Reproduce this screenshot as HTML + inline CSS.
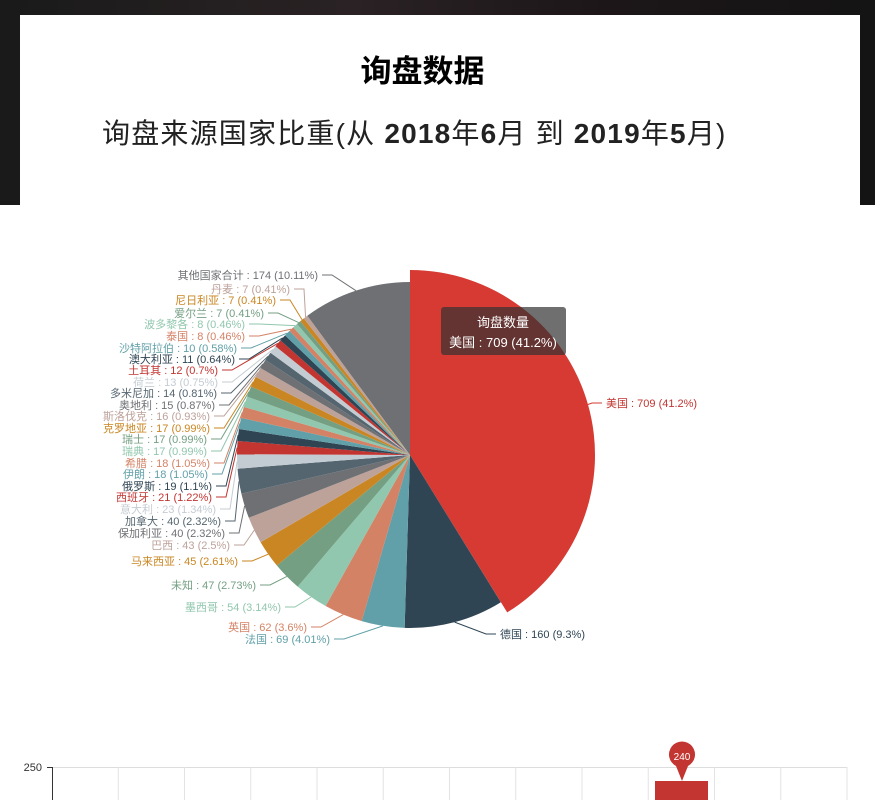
<!DOCTYPE html>
<html><head><meta charset="utf-8">
<style>
html,body{margin:0;padding:0;width:875px;height:800px;overflow:hidden;background:#fff;font-family:"Liberation Sans","Noto Sans CJK SC",sans-serif;}
#bg{position:absolute;left:0;top:0;width:875px;height:205px;background:linear-gradient(90deg,#1a1a1a,#2a2224 40%,#1c1618 70%,#141414);}
#card{position:absolute;left:20px;top:15px;width:840px;height:190px;background:#fff;}
#t1{position:absolute;left:0;width:845px;top:46px;text-align:center;font-size:31px;font-weight:bold;color:#000;}
#t2{position:absolute;left:102px;top:112px;font-size:28px;letter-spacing:1.2px;color:#222;white-space:nowrap;}
#t2 b{font-weight:bold;}
svg{position:absolute;left:0;top:0;}
</style></head><body>
<div id="bg"></div>
<div id="card"></div>
<div id="t1">询盘数据</div>
<div id="t2">询盘来源国家比重(从 <b>2018</b>年<b>6</b>月 到 <b>2019</b>年<b>5</b>月)</div>
<svg id="s" width="875" height="800" font-family="Liberation Sans, Noto Sans CJK SC, sans-serif" font-size="11">
<g id="slices"></g><g id="lines"></g>
<g id="labels" text-anchor="end">
<text x="318" y="279" fill="#6e7074">其他国家合计 : 174 (10.11%)</text>
<text x="290" y="293" fill="#bda29a">丹麦 : 7 (0.41%)</text>
<text x="276" y="304" fill="#ca8622">尼日利亚 : 7 (0.41%)</text>
<text x="264" y="317" fill="#749f83">爱尔兰 : 7 (0.41%)</text>
<text x="245" y="328" fill="#91c7ae">波多黎各 : 8 (0.46%)</text>
<text x="245" y="340" fill="#d48265">泰国 : 8 (0.46%)</text>
<text x="237" y="352" fill="#61a0a8">沙特阿拉伯 : 10 (0.58%)</text>
<text x="235" y="363" fill="#2f4554">澳大利亚 : 11 (0.64%)</text>
<text x="218" y="374" fill="#c23531">土耳其 : 12 (0.7%)</text>
<text x="218" y="386" fill="#c4ccd3">荷兰 : 13 (0.75%)</text>
<text x="217" y="397" fill="#546570">多米尼加 : 14 (0.81%)</text>
<text x="215" y="409" fill="#6e7074">奥地利 : 15 (0.87%)</text>
<text x="210" y="420" fill="#bda29a">斯洛伐克 : 16 (0.93%)</text>
<text x="210" y="432" fill="#ca8622">克罗地亚 : 17 (0.99%)</text>
<text x="207" y="443" fill="#749f83">瑞士 : 17 (0.99%)</text>
<text x="207" y="455" fill="#91c7ae">瑞典 : 17 (0.99%)</text>
<text x="210" y="467" fill="#d48265">希腊 : 18 (1.05%)</text>
<text x="208" y="478" fill="#61a0a8">伊朗 : 18 (1.05%)</text>
<text x="212" y="490" fill="#2f4554">俄罗斯 : 19 (1.1%)</text>
<text x="212" y="501" fill="#c23531">西班牙 : 21 (1.22%)</text>
<text x="216" y="513" fill="#c4ccd3">意大利 : 23 (1.34%)</text>
<text x="221" y="525" fill="#546570">加拿大 : 40 (2.32%)</text>
<text x="225" y="537" fill="#6e7074">保加利亚 : 40 (2.32%)</text>
<text x="230" y="549" fill="#bda29a">巴西 : 43 (2.5%)</text>
<text x="238" y="565" fill="#ca8622">马来西亚 : 45 (2.61%)</text>
<text x="256" y="589" fill="#749f83">未知 : 47 (2.73%)</text>
<text x="281" y="611" fill="#91c7ae">墨西哥 : 54 (3.14%)</text>
<text x="307" y="631" fill="#d48265">英国 : 62 (3.6%)</text>
<text x="330" y="643" fill="#61a0a8">法国 : 69 (4.01%)</text>
<text x="500" y="638" text-anchor="start" fill="#2f4554">德国 : 160 (9.3%)</text>
<text x="606" y="407" text-anchor="start" fill="#c23531">美国 : 709 (41.2%)</text>
</g>
<rect x="441" y="307" width="125" height="48" rx="3" fill="rgba(50,50,50,0.7)"/>
<text x="503" y="327" text-anchor="middle" fill="#fff" font-size="13">询盘数量</text>
<text x="503" y="347" text-anchor="middle" fill="#fff" font-size="13">美国 : 709 (41.2%)</text>
<g id="bar" font-size="11">
<text x="42" y="771" text-anchor="end" fill="#333">250</text>
<line x1="47" y1="767.5" x2="52" y2="767.5" stroke="#333"/>
<line x1="52" y1="767.5" x2="847" y2="767.5" stroke="#ddd"/>
<line x1="52.5" y1="767" x2="52.5" y2="800" stroke="#333"/>
<g stroke="#e3e3e3"></g>
<rect x="655" y="781" width="53" height="20" fill="#c23531"/>
<path d="M682 781 L676 766 A13 13 0 1 1 688 766 Z" fill="#c23531"/>
<text x="682" y="760" text-anchor="middle" fill="#fff" font-size="10">240</text>
</g>
</svg>
<script>
var NS="http://www.w3.org/2000/svg";
var g=document.querySelector("#bar g");
for(var i=1;i<=12;i++){var x=52+i*66.25;var l=document.createElementNS(NS,"line");l.setAttribute("x1",x);l.setAttribute("x2",x);l.setAttribute("y1",767);l.setAttribute("y2",800);g.appendChild(l);}
var vals=[709,160,69,62,54,47,45,43,40,40,23,21,19,18,18,17,17,17,16,15,14,13,12,11,10,8,8,7,7,7,174];
var cols=["#c23531","#2f4554","#61a0a8","#d48265","#91c7ae","#749f83","#ca8622","#bda29a","#6e7074","#546570","#c4ccd3"];
var tot=vals.reduce(function(a,b){return a+b},0);
var cx=410,cy=455,R=173;
var a=0,mids=[];
var sg=document.getElementById("slices");
for(var i=0;i<vals.length;i++){
 var da=vals[i]/tot*2*Math.PI,r=i==0?185:R,c=i==0?"#d63a32":cols[i%11];
 var a0=a,a1=a+da;
 var p="M"+cx+" "+cy+" L"+(cx+r*Math.sin(a0))+" "+(cy-r*Math.cos(a0))+" A"+r+" "+r+" 0 "+(da>Math.PI?1:0)+" 1 "+(cx+r*Math.sin(a1))+" "+(cy-r*Math.cos(a1))+"Z";
 var e=document.createElementNS(NS,"path");e.setAttribute("d",p);e.setAttribute("fill",c);sg.appendChild(e);
 mids.push([(a0+a1)/2,r,c]);a=a1;
}
var lab=document.querySelectorAll("#labels text");
var order=[30,29,28,27,26,25,24,23,22,21,20,19,18,17,16,15,14,13,12,11,10,9,8,7,6,5,4,3,2,1,0];
var lg=document.getElementById("lines");
for(var k=0;k<lab.length;k++){
 var t=lab[k],idx=order[k],m=mids[idx];
 var y=+t.getAttribute("y")-4,x=+t.getAttribute("x");
 var right=t.getAttribute("text-anchor")=="start";
 var px=cx+m[1]*Math.sin(m[0]),py=cy-m[1]*Math.cos(m[0]);
 var sx=right?x-4:x+4,hx=right?x-14:x+14;
 var pl=document.createElementNS(NS,"polyline");
 pl.setAttribute("points",sx+","+y+" "+hx+","+y+" "+px+","+py);
 pl.setAttribute("fill","none");pl.setAttribute("stroke",m[2]);
 lg.appendChild(pl);
}
</script>
</body></html>
